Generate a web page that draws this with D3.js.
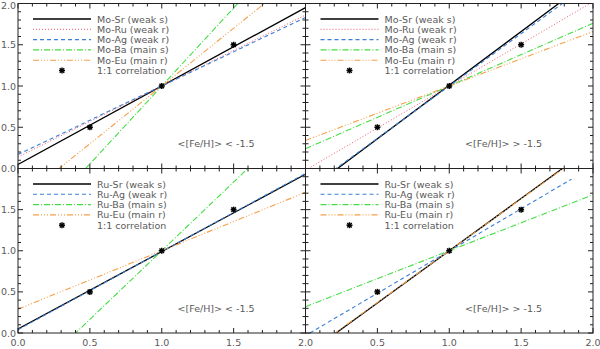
<!DOCTYPE html>
<html>
<head>
<meta charset="utf-8">
<script src="https://cdn.jsdelivr.net/npm/d3@7"></script>
<style>
  body { margin: 0; background: #fff; }
  text { font-family: "DejaVu Sans", sans-serif; fill: #5a5a5a; }
</style>
</head>
<body>
<div id="chart"></div>
<script>
// ratios, each line as two end points [x, y]
const elements = ["Sr", "Ru", "Ag", "Ba", "Eu"]
const kinds = ["weak s", "weak r", "weak r", "main s", "main r"]

const moLow = [[[0, 0.05], [2, 1.95]], [[0, 0.14], [2, 1.86]], [[0, 0.17], [2, 1.83]], [[0, -0.89], [2, 2.89]], [[0, -0.40], [2, 2.40]]]
const moHigh = [[[0, -0.29], [2, 2.31]], [[0, -0.02], [2, 2.02]], [[0, -0.27], [2, 2.27]], [[0, 0.24], [2, 1.76]], [[0, 0.34], [2, 1.66]]]
const ruLow = [[[0, 0.05], [2, 1.93]], null, [[0, 0.04], [2, 1.94]], [[0, -0.67], [2, 2.67]], [[0, 0.29], [2, 1.71]]]
const ruHigh = [[[0, -0.27], [2, 2.27]], null, [[0.03, 0], [1.85, 1.87]], [[0, 0.32], [2, 1.68]], [[0, -0.26], [2, 2.26]]]

const oneToOne = [0.5, 1.0, 1.5]
const tickLabels = ["0.0", "0.5", "1.0", "1.5", "2.0"]

const styles = {
  Sr: { color: "#000000", dash: null, w: 1.3 },
  Ru: { color: "#ee5a6a", dash: "1,2", w: 1 },
  Ag: { color: "#3b7fd6", dash: "4,3", w: 1.1 },
  Ba: { color: "#44dd44", dash: "6,2,1,2", w: 1.1 },
  Eu: { color: "#f5a04a", dash: "6,2,1,2,1,2,1,2", w: 1.1 }
}

const W = 600, H = 349
const xs = [18, 305.5, 593]
const ys = [3.5, 168.5, 333]

const svg = d3.select('#chart')
  .append('svg')
    .attr('width', W)
    .attr('height', H)

function asterisk(g, cx, cy) {
  const r = 3
  const p = g.append('g').attr('stroke', '#000').attr('stroke-width', 1.5)
  p.append('line').attr('x1', cx - r).attr('x2', cx + r).attr('y1', cy).attr('y2', cy)
  p.append('line').attr('x1', cx).attr('x2', cx).attr('y1', cy - r).attr('y2', cy + r)
  p.append('line').attr('x1', cx - r * 0.75).attr('x2', cx + r * 0.75).attr('y1', cy - r * 0.75).attr('y2', cy + r * 0.75)
  p.append('line').attr('x1', cx - r * 0.75).attr('x2', cx + r * 0.75).attr('y1', cy + r * 0.75).attr('y2', cy - r * 0.75)
}

function panel(id, col, row, ratio, lines, label) {
  const x = d3.scaleLinear().domain([0, 2]).range([xs[col], xs[col + 1]])
  const y = d3.scaleLinear().domain([0, 2]).range([ys[row + 1], ys[row]])
  const g = svg.append('g').attr('id', id)

  g.append('clipPath').attr('id', 'clip-' + id)
    .append('rect')
      .attr('x', xs[col]).attr('y', ys[row])
      .attr('width', xs[col + 1] - xs[col]).attr('height', ys[row + 1] - ys[row])

  const line = d3.line().x(d => x(d[0])).y(d => y(d[1]))
  const plot = g.append('g').attr('clip-path', `url(#clip-${id})`)

  lines.forEach((pts, i) => {
    if (!pts) return
    const s = styles[elements[i]]
    plot.append('path')
      .attr('d', line(pts))
      .attr('fill', 'none')
      .attr('stroke', s.color)
      .attr('stroke-width', s.w)
      .attr('stroke-dasharray', s.dash)
  })

  oneToOne.forEach(v => asterisk(g, x(v), y(v)))

  // legend
  const lx0 = xs[col] + 15, lx1 = xs[col] + 73, tx = xs[col] + 79
  let ly = ys[row] + 15.5
  lines.forEach((pts, i) => {
    if (!pts) return
    const s = styles[elements[i]]
    g.append('line')
      .attr('x1', lx0).attr('x2', lx1).attr('y1', ly).attr('y2', ly)
      .attr('stroke', s.color)
      .attr('stroke-width', s.w)
      .attr('stroke-dasharray', s.dash)
    g.append('text')
      .attr('x', tx).attr('y', ly + 3.5)
      .style('font-size', '9.5px')
      .text(`${ratio}-${elements[i]} (${kinds[i]})`)
    ly += 10.3
  })
  asterisk(g, xs[col] + 44, ly)
  g.append('text')
    .attr('x', tx).attr('y', ly + 3.5)
    .style('font-size', '9.5px')
    .text('1:1 correlation')

  g.append('text')
    .attr('x', x(1.11)).attr('y', y(0.3) + 3.5)
    .style('font-size', '9.5px')
    .text(label)

  // frame and inward ticks
  const frame = g.append('g').attr('stroke', '#222').attr('stroke-width', 1).attr('fill', 'none')
  frame.append('rect')
    .attr('x', xs[col]).attr('y', ys[row])
    .attr('width', xs[col + 1] - xs[col]).attr('height', ys[row + 1] - ys[row])
  d3.range(0, 2.001, 0.1).forEach((t, k) => {
    const len = k % 5 === 0 ? 5 : 3
    frame.append('line').attr('x1', x(t)).attr('x2', x(t)).attr('y1', ys[row + 1]).attr('y2', ys[row + 1] - len)
    frame.append('line').attr('x1', x(t)).attr('x2', x(t)).attr('y1', ys[row]).attr('y2', ys[row] + len)
    frame.append('line').attr('y1', y(t)).attr('y2', y(t)).attr('x1', xs[col]).attr('x2', xs[col] + len)
    frame.append('line').attr('y1', y(t)).attr('y2', y(t)).attr('x1', xs[col + 1]).attr('x2', xs[col + 1] - len)
  })

  // tick labels
  if (col === 0) {
    tickLabels.forEach((t, k) => {
      if (row === 1 && k === 4) return
      g.append('text')
        .attr('x', xs[0] - 2).attr('y', Math.max(y(+t) + 3.5, 8.5))
        .attr('text-anchor', 'end')
        .style('font-size', '9.5px')
        .text(t)
    })
  }
  if (row === 1) {
    tickLabels.forEach((t, k) => {
      if (col === 1 && k === 0) return
      g.append('text')
        .attr('x', x(+t)).attr('y', ys[2] + 13)
        .attr('text-anchor', 'middle')
        .style('font-size', '9.5px')
        .text(t)
    })
  }
}

panel('moLow', 0, 0, 'Mo', moLow, '<[Fe/H]> < -1.5')
panel('moHigh', 1, 0, 'Mo', moHigh, '<[Fe/H]> > -1.5')
panel('ruLow', 0, 1, 'Ru', ruLow, '<[Fe/H]> < -1.5')
panel('ruHigh', 1, 1, 'Ru', ruHigh, '<[Fe/H]> > -1.5')
</script>
</body>
</html>
